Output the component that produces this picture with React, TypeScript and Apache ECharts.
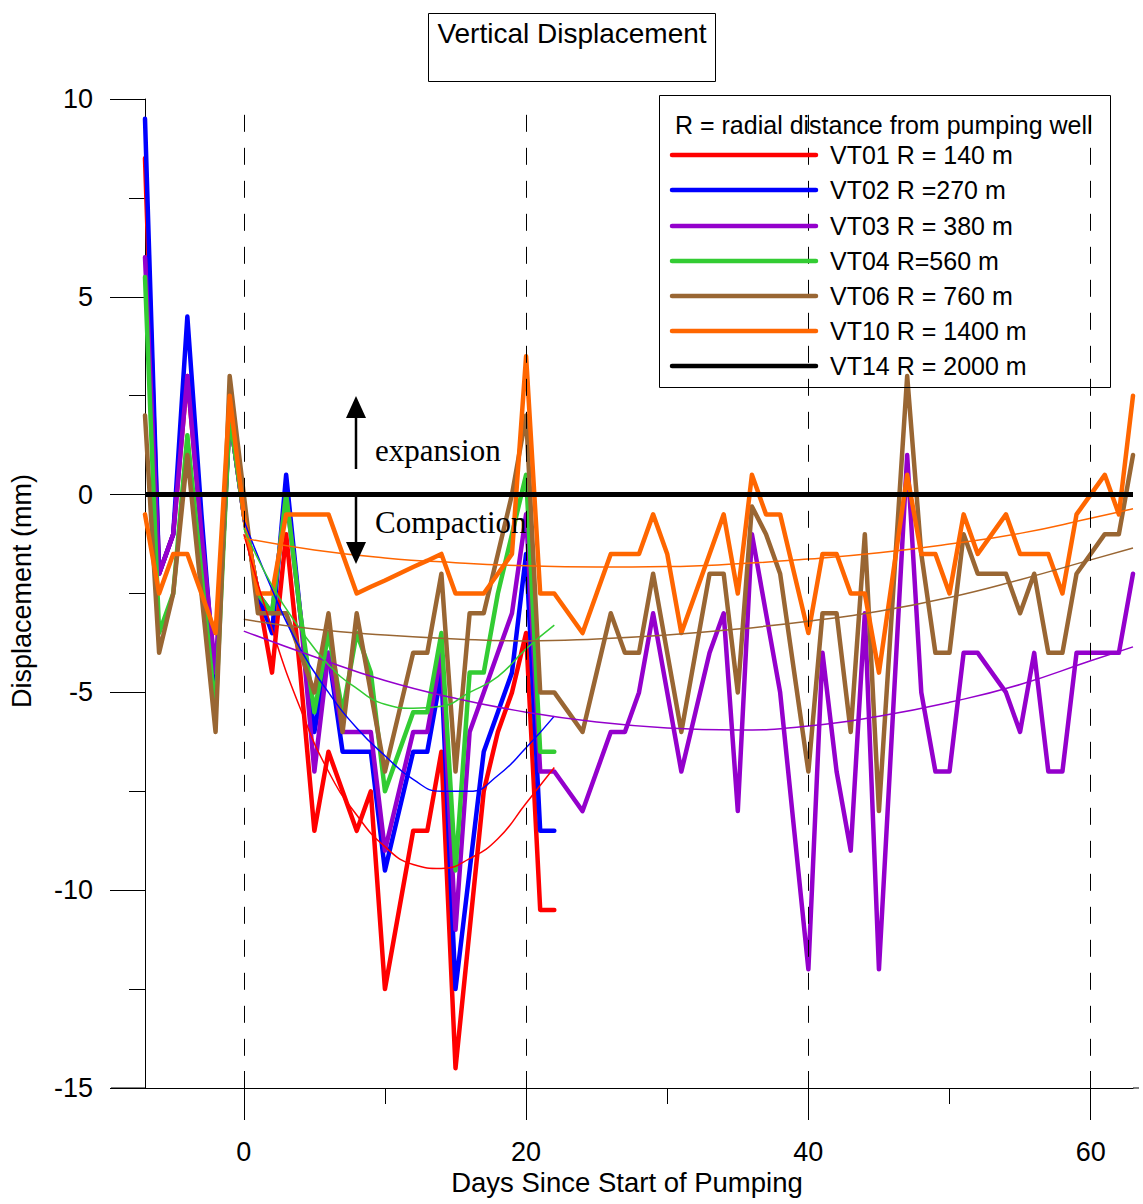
import React, { useEffect, useRef } from "react";
import * as echarts from "echarts";

// ---------- data ----------
const FIRST_DAY = -7;

// daily readings, day -7 .. 22
const vt01 = [8.5, -2, -1, 3, -1, -5, 2, -0.5, -2.5, -4.5, -1, -4.5, -8.5, -6.5, -7.5, -8.5, -7.5, -12.5, -10.5, -8.5, -8.5, -6.5, -14.5, -11, -7.5, -6, -5, -3.5, -10.5, -10.5];
const vt02 = [9.5, -2, -1, 4.5, -0.5, -5, 2, -0.5, -2.5, -3.5, 0.5, -3, -6, -4, -6.5, -6.5, -6.5, -9.5, -8, -6.5, -6.5, -4.5, -12.5, -9.5, -6.5, -5.5, -4.5, -1.5, -8.5, -8.5];
const vt04 = [5.5, -3.5, -2.5, 1.5, -2, -5.5, 2, -0.5, -2.5, -3, 0, -3, -5.5, -3.5, -5.5, -3.5, -4.5, -7.5, -6.5, -5.5, -5.5, -3.5, -9.5, -4.5, -4.5, -2.5, -1, 0.5, -6.5, -6.5];

// daily readings, day -7 .. 63
const vt03 = [6, -2, -1, 3, -1, -4.5, 2, -0.5, -2.5, -3, 0, -3, -7, -4, -6, -6, -6, -9, -7.5, -6, -6, -4, -11, -6, -5, -4, -3, -0.5, -7, -7, -7.5, -8, -7, -6, -6, -5, -3, -5, -7, -5.5, -4, -3, -8, -1, -3, -5, -8.5, -12, -4, -7, -9, -3, -12, -5.5, 1, -5, -7, -7, -4, -4, -4.5, -5, -6, -4, -7, -7, -4, -4, -4, -4, -2];
const vt06 = [2, -4, -2.5, 1, -2.5, -6, 3, 0, -3, -3, -3, -4, -5, -3, -6, -3, -5, -7, -5.5, -4, -4, -2, -7, -3, -3, -1.5, 0, 2, -5, -5, -5.5, -6, -4.5, -3, -4, -4, -2, -4, -6, -4, -2, -2, -5, -0.3, -1, -2, -4.5, -7, -3, -3, -6, -1, -8, -2.5, 3, -1.5, -4, -4, -1, -2, -2, -2, -3, -2, -4, -4, -2, -1.5, -1, -1, 1];
const vt10 = [-0.5, -2.5, -1.5, -1.5, -2.5, -3.5, 2.5, -0.5, -2.5, -2.5, -0.5, -0.5, -0.5, -0.5, -1.5, -2.5, -2.33, -2.17, -2, -1.83, -1.67, -1.5, -2.5, -2.5, -2.5, -2, -1.5, 3.5, -2.5, -2.5, -3, -3.5, -2.5, -1.5, -1.5, -1.5, -0.5, -1.5, -3.5, -2.5, -1.5, -0.5, -2.5, 0.5, -0.5, -0.5, -2, -3.5, -1.5, -1.5, -2.5, -2.5, -4.5, -2, 0.5, -1.5, -1.5, -2.5, -0.5, -1.5, -1, -0.5, -1.5, -1.5, -1.5, -2.5, -0.5, 0, 0.5, -0.5, 2.5];
const vt14Days = [-7, 63];
const vt14 = [0, 0];

// fitted trend curves
const fitDaysShort = [0, 2, 4, 6, 8, 10, 12, 14, 16, 18, 20, 22];
const fit01 = [-1, -3.4, -5.4, -7, -8.1, -8.9, -9.35, -9.45, -9.2, -8.7, -7.8, -6.9];
const fit02 = [-0.65, -2.4, -3.9, -5.0, -5.9, -6.6, -7.2, -7.5, -7.5, -7.1, -6.4, -5.6];
const fit04 = [-0.85, -2.3, -3.4, -4.3, -4.9, -5.3, -5.4, -5.35, -5.0, -4.6, -3.9, -3.3];
const fitDaysLong = [0, 5, 10, 15, 20, 25, 30, 35, 40, 45, 50, 55, 60, 63];
const fit03 = [-3.45, -4.1, -4.7, -5.15, -5.5, -5.75, -5.9, -5.95, -5.85, -5.6, -5.25, -4.8, -4.2, -3.85];
const fit06 = [-3.15, -3.4, -3.55, -3.65, -3.7, -3.65, -3.55, -3.4, -3.2, -2.95, -2.6, -2.15, -1.65, -1.35];
const fit10 = [-1.1, -1.4, -1.6, -1.72, -1.8, -1.83, -1.82, -1.75, -1.63, -1.47, -1.25, -0.98, -0.6, -0.36];

const xMajorTicks = [0, 20, 40, 60];
const xMinorTicks = [10, 30, 50];
const gridLineDays = [0, 20, 40, 60];

const legendTitle = "R = radial distance from pumping well";
const seriesNames = [
  "VT01 R = 140 m",
  "VT02 R =270 m",
  "VT03 R = 380 m",
  "VT04 R=560 m",
  "VT06 R = 760 m",
  "VT10 R = 1400 m",
  "VT14 R = 2000 m",
];
const colors = ["#ff0000", "#0000ff", "#9400cc", "#33cc33", "#996633", "#ff6600", "#000000"];

// ---------- helpers ----------
const daily = (vals: number[]) => vals.map((v, i) => [FIRST_DAY + i, v]);
const zipXY = (xs: number[], ys: number[]) => xs.map((x, i) => [x, ys[i]]);

const SANS = '"Liberation Sans", Arial, sans-serif';
const SERIF = '"Liberation Serif", "Times New Roman", serif';

export default function App() {
  const ref = useRef<HTMLDivElement>(null);

  useEffect(() => {
    if (!ref.current) return;
    const chart = echarts.init(ref.current, undefined, { renderer: "svg" });

    const dataSets = [daily(vt01), daily(vt02), daily(vt03), daily(vt04), daily(vt06), daily(vt10)];
    const fits = [
      zipXY(fitDaysShort, fit01),
      zipXY(fitDaysShort, fit02),
      zipXY(fitDaysLong, fit03),
      zipXY(fitDaysShort, fit04),
      zipXY(fitDaysLong, fit06),
      zipXY(fitDaysLong, fit10),
    ];

    const series: any[] = [];
    series.push({
      name: "gridlines",
      type: "line",
      data: [],
      silent: true,
      z: 1,
      markLine: {
        silent: true,
        symbol: "none",
        animation: false,
        label: { show: false },
        lineStyle: { color: "#000", width: 1, type: [17, 16] },
        data: gridLineDays.map((d) => [{ coord: [d, 9.6] }, { coord: [d, -15] }]),
      },
    });
    dataSets.forEach((d, i) => {
      series.push({
        name: seriesNames[i],
        type: "line",
        data: d,
        symbol: "none",
        showSymbol: false,
        z: 3,
        lineStyle: { color: colors[i], width: 4.5, join: "round", cap: "round" },
        itemStyle: { color: colors[i] },
      });
    });
    fits.forEach((d, i) => {
      series.push({
        name: seriesNames[i] + " fit",
        type: "line",
        data: d,
        smooth: true,
        symbol: "none",
        showSymbol: false,
        z: 4,
        lineStyle: { color: colors[i], width: 1.5 },
      });
    });
    series.push({
      name: seriesNames[6],
      type: "line",
      data: zipXY(vt14Days, vt14),
      symbol: "none",
      showSymbol: false,
      z: 5,
      lineStyle: { color: colors[6], width: 5 },
    });

    // legend drawn as graphic
    const legendRowY = [155, 190, 226, 261, 296, 331, 366];
    const legendEls: any[] = [
      {
        type: "rect",
        shape: { x: 659.5, y: 95.5, width: 451, height: 292 },
        style: { fill: "none", stroke: "#000", lineWidth: 1 },
        z: 10,
      },
      {
        type: "text",
        x: 675,
        y: 125,
        style: { text: legendTitle, font: `25px ${SANS}`, fill: "#000", textAlign: "left", align: "left", textVerticalAlign: "middle", verticalAlign: "middle" },
        z: 10,
      },
    ];
    seriesNames.forEach((name, i) => {
      legendEls.push({
        type: "line",
        shape: { x1: 672, y1: legendRowY[i], x2: 816, y2: legendRowY[i] },
        style: { stroke: colors[i], lineWidth: 4.5, lineCap: "round" },
        z: 10,
      });
      legendEls.push({
        type: "text",
        x: 830,
        y: legendRowY[i],
        style: { text: name, font: `25px ${SANS}`, fill: "#000", textAlign: "left", align: "left", textVerticalAlign: "middle", verticalAlign: "middle" },
        z: 10,
      });
    });

    const option: any = {
      animation: false,
      backgroundColor: "#fff",
      grid: { left: 145, right: 10, top: 99, bottom: 116, containLabel: false },
      xAxis: [
        {
          type: "value",
          min: -7,
          max: 63,
          position: "bottom",
          axisLine: { show: true, onZero: false, lineStyle: { color: "#000", width: 1 } },
          axisTick: { show: true, inside: false, length: 32, customValues: xMajorTicks, lineStyle: { color: "#000" } },
          axisLabel: { show: true, customValues: xMajorTicks, fontSize: 27, fontFamily: SANS, color: "#000", margin: 50 },
          splitLine: { show: false },
        },
        {
          type: "value",
          min: -7,
          max: 63,
          position: "bottom",
          axisLine: { show: false, onZero: false },
          axisTick: { show: true, inside: true, length: 17, customValues: xMajorTicks, lineStyle: { color: "#000" } },
          axisLabel: { show: false },
          splitLine: { show: false },
        },
        {
          type: "value",
          min: -7,
          max: 63,
          position: "bottom",
          axisLine: { show: false, onZero: false },
          axisTick: { show: true, inside: false, length: 16, customValues: xMinorTicks, lineStyle: { color: "#000" } },
          axisLabel: { show: false },
          splitLine: { show: false },
        },
      ],
      yAxis: {
        type: "value",
        min: -15,
        max: 10,
        interval: 5,
        axisLine: { show: true, onZero: false, lineStyle: { color: "#000", width: 1 } },
        axisTick: { show: true, inside: false, length: 35, lineStyle: { color: "#000" } },
        minorTick: { show: true, splitNumber: 2, length: 16, lineStyle: { color: "#000" } },
        axisLabel: { fontSize: 27, fontFamily: SANS, color: "#000", margin: 52 },
        splitLine: { show: false },
      },
      series,
      graphic: [
        // x-axis line extensions
        { type: "line", shape: { x1: 111, y1: 1088, x2: 145, y2: 1088 }, style: { stroke: "#000", lineWidth: 1 } },
        { type: "line", shape: { x1: 1133, y1: 1088, x2: 1139, y2: 1088 }, style: { stroke: "#000", lineWidth: 1 } },
        // title box
        {
          type: "rect",
          shape: { x: 428.5, y: 13.5, width: 287, height: 68 },
          style: { fill: "none", stroke: "#000", lineWidth: 1 },
        },
        {
          type: "text",
          x: 572,
          y: 33,
          style: { text: "Vertical Displacement", font: `28px ${SANS}`, fill: "#000", textAlign: "center", align: "center", textVerticalAlign: "middle", verticalAlign: "middle" },
        },
        // axis titles
        {
          type: "text",
          x: 627,
          y: 1182,
          style: { text: "Days Since Start of Pumping", font: `27.5px ${SANS}`, fill: "#000", textAlign: "center", align: "center", textVerticalAlign: "middle", verticalAlign: "middle" },
        },
        {
          type: "text",
          x: 22,
          y: 591,
          rotation: Math.PI / 2,
          style: { text: "Displacement (mm)", font: `27px ${SANS}`, fill: "#000", textAlign: "center", align: "center", textVerticalAlign: "middle", verticalAlign: "middle" },
        },
        // expansion / compaction annotation
        { type: "line", shape: { x1: 356, y1: 469, x2: 356, y2: 416 }, style: { stroke: "#000", lineWidth: 2.5 }, z: 10 },
        { type: "polygon", shape: { points: [[346, 418], [366, 418], [356, 396]] }, style: { fill: "#000" }, z: 10 },
        { type: "line", shape: { x1: 356, y1: 495, x2: 356, y2: 544 }, style: { stroke: "#000", lineWidth: 2.5 }, z: 10 },
        { type: "polygon", shape: { points: [[346, 542], [366, 542], [356, 564]] }, style: { fill: "#000" }, z: 10 },
        {
          type: "text",
          x: 375,
          y: 450,
          style: { text: "expansion", font: `31px ${SERIF}`, fill: "#000", textAlign: "left", align: "left", textVerticalAlign: "middle", verticalAlign: "middle" },
          z: 10,
        },
        {
          type: "text",
          x: 375,
          y: 522,
          style: { text: "Compaction", font: `31px ${SERIF}`, fill: "#000", textAlign: "left", align: "left", textVerticalAlign: "middle", verticalAlign: "middle" },
          z: 10,
        },
        ...legendEls,
      ],
    };

    chart.setOption(option);
    return () => chart.dispose();
  }, []);

  return (
    <div
      ref={ref}
      style={{ position: "absolute", left: 0, top: 0, width: 1143, height: 1204, background: "#fff" }}
    />
  );
}
